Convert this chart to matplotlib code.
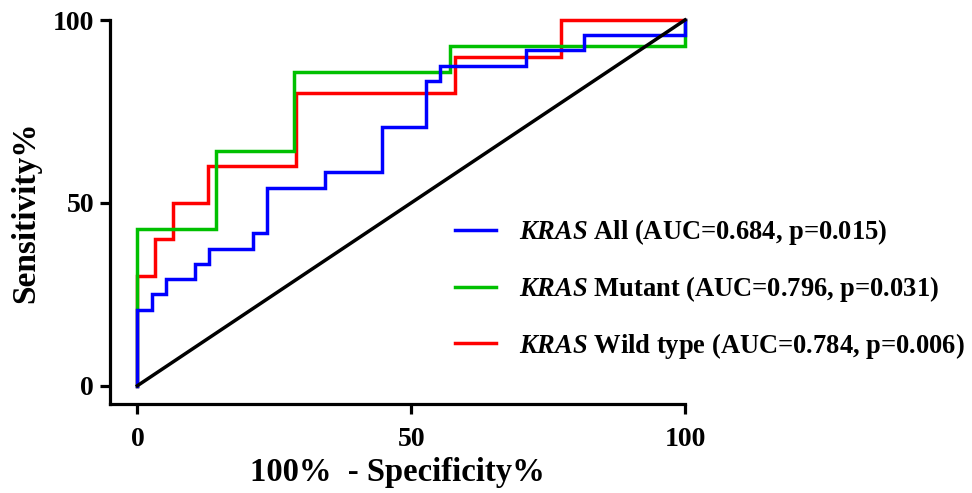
import matplotlib
matplotlib.use("Agg")
import matplotlib.pyplot as plt

# ROC data (100% - specificity %, sensitivity %)
fpr_all = [0, 0, 2.63, 5.26, 10.53, 13.16, 21.05, 23.68, 34.21, 44.74, 52.63, 55.26, 71.05, 81.58, 100]
sens_all = [0, 20.83, 25.0, 29.17, 33.33, 37.5, 41.67, 54.17, 58.33, 70.83, 83.33, 87.5, 91.67, 95.83, 100]

fpr_mut = [0, 0, 14.29, 28.57, 57.14, 100]
sens_mut = [0, 42.86, 64.29, 85.71, 92.86, 100]

fpr_wt = [0, 0, 3.23, 6.45, 12.9, 29.03, 58.06, 77.42, 100]
sens_wt = [0, 30, 40, 50, 60, 80, 90, 100, 100]

ref_x = [0, 100]
ref_y = [0, 100]

labels = [r"$\it{KRAS}$ All (AUC=0.684, p=0.015)",
          r"$\it{KRAS}$ Mutant (AUC=0.796, p=0.031)",
          r"$\it{KRAS}$ Wild type (AUC=0.784, p=0.006)"]
xticks = [0, 50, 100]
yticks = [0, 50, 100]

plt.rcParams['font.family'] = ['Liberation Serif', 'DejaVu Serif']
plt.rcParams['font.weight'] = 'bold'
plt.rcParams['mathtext.fontset'] = 'custom'
plt.rcParams['mathtext.it'] = 'Liberation Serif:italic:bold'
plt.rcParams['mathtext.rm'] = 'Liberation Serif:bold'
plt.rcParams['mathtext.bf'] = 'Liberation Serif:bold'

fig = plt.figure(figsize=(9.72, 4.93), dpi=100)
ax = fig.add_axes([110/972, 1 - 404/493, 575/972, 384/493])

lw = 2.5
l_wt, = ax.plot(fpr_wt, sens_wt, drawstyle='steps-post', color='#ff0000', lw=lw, clip_on=False, solid_joinstyle='miter')
l_mut, = ax.plot(fpr_mut, sens_mut, drawstyle='steps-post', color='#00c000', lw=lw, clip_on=False, solid_joinstyle='miter')
l_all, = ax.plot(fpr_all, sens_all, drawstyle='steps-post', color='#0000ff', lw=lw, clip_on=False, solid_joinstyle='miter')
ax.plot(ref_x, ref_y, color='black', lw=lw, clip_on=False)

ax.set_xlim(-5, 100)
ax.set_ylim(-5, 100)
ax.set_xticks(xticks)
ax.set_yticks(yticks)
for s in ['top', 'right']:
    ax.spines[s].set_visible(False)
for s in ['left', 'bottom']:
    ax.spines[s].set_linewidth(2.3)
ax.tick_params(axis='both', direction='out', length=7.5, width=2.3, labelsize=20)
ax.tick_params(axis='x', pad=9)
ax.tick_params(axis='y', pad=4)
for t in ax.get_xticklabels() + ax.get_yticklabels():
    t.set_fontweight('bold')

ax.set_xlabel("100%  - Specificity%", fontsize=23.5, fontweight='bold', labelpad=4)
ax.set_ylabel("Sensitivity%", fontsize=24, fontweight='bold', labelpad=8)

fig.legend([l_all, l_mut, l_wt], labels, loc='center left',
           bbox_to_anchor=(455/972, 1 - 289/493), frameon=False,
           handlelength=1.55, handletextpad=0.85,
           labelspacing=1.0, borderpad=0, borderaxespad=0,
           prop={'family': 'Liberation Serif', 'weight': 'bold', 'size': 19.1})

fig.savefig("out.png", dpi=100)
